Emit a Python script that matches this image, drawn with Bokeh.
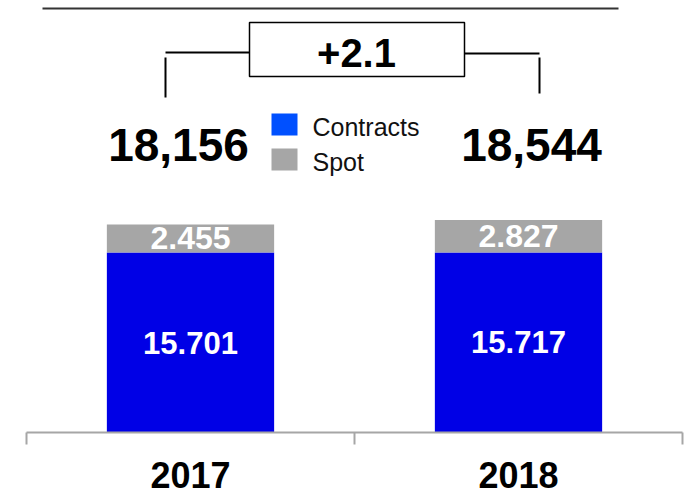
from bokeh.plotting import figure
from bokeh.models import Range1d
from bokeh.core.properties import value
from bokeh.embed import file_html
from bokeh.resources import INLINE

# ---- data ----
years = ["2017", "2018"]
series = ["Contracts", "Spot"]
contracts = [15.701, 15.717]
spot = [2.455, 2.827]

colors_bar = {"Contracts": "#0000E6", "Spot": "#A6A6A6"}
colors_legend = {"Contracts": "#0050FF", "Spot": "#A6A6A6"}

# ---- layout ----
W, H = 692, 496
OFF = 0            # image px offset of the canvas
PX_X = 328.0       # pixels per category
X0 = 26            # image px where category 0 starts
PX_Y = 11.46       # pixels per unit
BASE_IMG = 432     # image px of y = 0

x_start = -(X0 - OFF) / PX_X
x_end = x_start + W / PX_X
y_end = (BASE_IMG - OFF) / PX_Y
y_start = -(H - (BASE_IMG - OFF)) / PX_Y


def fx(px):
    return x_start + (px - OFF) / PX_X


def fy(py):
    return (BASE_IMG - py) / PX_Y


FONT = value("Liberation Sans")

p = figure(width=W, height=H, x_range=Range1d(x_start, x_end),
           y_range=Range1d(y_start, y_end), output_backend="svg",
           toolbar_location=None, x_axis_location=None, y_axis_location=None,
           min_border=0, outline_line_color=None)
p.grid.visible = False
p.background_fill_color = "white"

centers = [i + 0.5 for i in range(len(years))]
totals = [c + s for c, s in zip(contracts, spot)]

# bars
p.vbar(x=centers, width=0.51, bottom=0, top=contracts,
       fill_color=colors_bar["Contracts"], line_color=None)
p.vbar(x=centers, width=0.51, bottom=contracts, top=totals,
       fill_color=colors_bar["Spot"], line_color=None)

# bar labels
p.text(x=centers, y=[c / 2 for c in contracts], text=[f"{c:.3f}" for c in contracts],
       text_color="white", text_font=FONT, text_font_style="bold",
       text_font_size="31px", text_align="center", text_baseline="middle")
p.text(x=centers, y=[c + s / 2 for c, s in zip(contracts, spot)],
       text=[f"{s:.3f}" for s in spot],
       text_color="white", text_font=FONT, text_font_style="bold",
       text_font_size="32px", text_align="center", text_baseline="middle")

# axis line and ticks
n = len(years)
p.segment(x0=[0], y0=[0], x1=[n], y1=[0], line_color="#A6A6A6", line_width=2)
p.segment(x0=list(range(n + 1)), y0=[0] * (n + 1), x1=list(range(n + 1)),
          y1=[fy(444)] * (n + 1), line_color="#A6A6A6", line_width=2)

# year labels
p.text(x=centers, y=[fy(474)] * n, text=years, text_color="black",
       text_font=FONT, text_font_style="bold", text_font_size="36px",
       text_align="center", text_baseline="middle")

# totals
p.text(x=[fx(178), fx(531)], y=[fy(144)] * n,
       text=[f"{t:.3f}".replace(".", ",") for t in totals], text_color="black",
       text_font=FONT, text_font_style="bold", text_font_size="46px",
       text_align="center", text_baseline="middle")

# change box
delta = (totals[1] / totals[0] - 1) * 100
p.quad(left=[fx(249)], right=[fx(464)], top=[fy(22)], bottom=[fy(76)],
       fill_color="white", line_color="black", line_width=1.5)
p.text(x=[fx(356)], y=[fy(52)], text=[f"{delta:+.1f}"], text_color="black",
       text_font=FONT, text_font_style="bold", text_font_size="40px",
       text_align="center", text_baseline="middle")

# brackets
p.line(x=[fx(165), fx(249)], y=[fy(52), fy(52)], line_color="black", line_width=2)
p.line(x=[fx(165), fx(165)], y=[fy(57), fy(97)], line_color="black", line_width=2)
p.line(x=[fx(464), fx(539)], y=[fy(53), fy(53)], line_color="black", line_width=2)
p.line(x=[fx(539), fx(539)], y=[fy(57), fy(93)], line_color="black", line_width=2)

# top rule
p.line(x=[fx(42), fx(618)], y=[fy(8), fy(8)], line_color="#333333", line_width=2)

# legend
leg_tops = [113, 148]
for s, t in zip(series, leg_tops):
    p.quad(left=[fx(271)], right=[fx(297)], top=[fy(t)], bottom=[fy(t + 22)],
           fill_color=colors_legend[s], line_color=None)
    p.text(x=[fx(312)], y=[fy(t + 13)], text=[s], text_color="#111111",
           text_font=FONT, text_font_size="25px", text_align="left",
           text_baseline="middle")

open("out.html", "w").write(file_html(p, INLINE))
